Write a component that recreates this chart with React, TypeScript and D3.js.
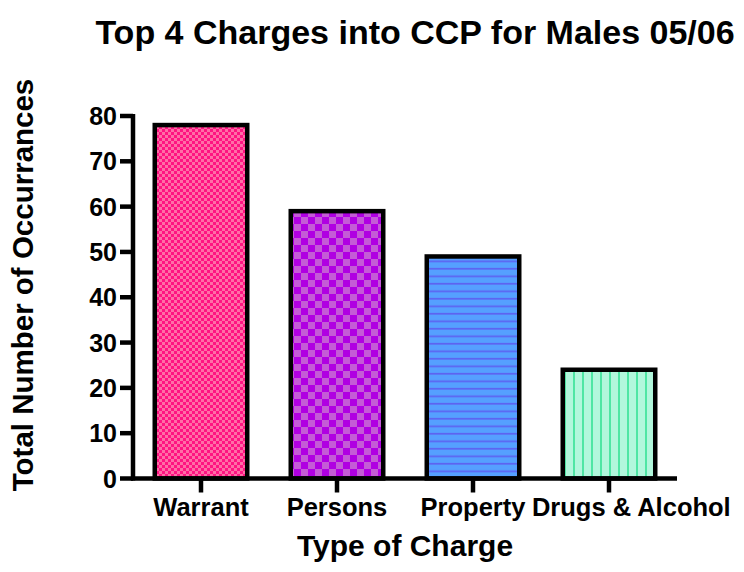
import React from "react";
import * as d3 from "d3";

const categories = ["Warrant", "Persons", "Property", "Drugs & Alcohol"];
const values = [78, 59, 49, 24];
const yTicks = [0, 10, 20, 30, 40, 50, 60, 70, 80];
const patternIds = ["pWarrant", "pPersons", "pProperty", "pDrugs"];

const font = "Liberation Sans, Arial, sans-serif";
const labelSize = 25.5;

function measure(text: string, size: number): number {
  const c = document.createElement("canvas").getContext("2d");
  if (!c) return text.length * size * 0.55;
  c.font = `bold ${size}px Liberation Sans, Arial, sans-serif`;
  return c.measureText(text).width;
}

export default function App() {
  const W = 744, H = 572;
  const x = d3.scaleBand<string>().domain(categories).range([133, 677]).paddingInner(0.32).paddingOuter(0.16);
  const y = d3.scaleLinear().domain([0, 80]).range([478.5, 116]);

  // place category labels centred under ticks, nudged right when they would overlap
  const labelPos: number[] = [];
  let prevEnd = -Infinity;
  categories.forEach((c) => {
    const w = measure(c, labelSize);
    const cx = Math.max(x(c)! + x.bandwidth() / 2, prevEnd + 6 + w / 2);
    labelPos.push(cx);
    prevEnd = cx + w / 2;
  });

  return (
    <svg width={W} height={H} style={{ position: "absolute", left: 0, top: 0 }}>
      <defs>
        <pattern id="pWarrant" width={6} height={6} patternUnits="userSpaceOnUse">
          <rect width={6} height={6} fill="#FF1482" />
          <rect width={3} height={3} fill="#FF6EA6" />
          <rect x={3} y={3} width={3} height={3} fill="#FF6EA6" />
        </pattern>
        <pattern id="pPersons" width={14} height={14} patternUnits="userSpaceOnUse">
          <rect width={14} height={14} fill="#B000E2" />
          <rect width={7} height={7} fill="#C45CD6" />
          <rect x={7} y={7} width={7} height={7} fill="#C45CD6" />
        </pattern>
        <pattern id="pProperty" width={8} height={7.5} patternUnits="userSpaceOnUse">
          <rect width={8} height={7.5} fill="#55A0FF" />
          <rect y={5.5} width={8} height={1.6} fill="#5E5EF0" />
        </pattern>
        <pattern id="pDrugs" width={9} height={8} patternUnits="userSpaceOnUse">
          <rect width={9} height={8} fill="#B2F7DC" />
          <rect x={6} width={2} height={8} fill="#4FE6A4" />
        </pattern>
      </defs>
      <text x={415} y={44} textAnchor="middle" fontFamily={font} fontWeight="bold" fontSize={34}>
        Top 4 Charges into CCP for Males 05/06
      </text>
      {categories.map((c, i) => (
        <rect key={c} x={x(c)!} y={y(values[i])} width={x.bandwidth()} height={y(0) - y(values[i])}
          fill={`url(#${patternIds[i]})`} stroke="#000" strokeWidth={4.5} />
      ))}
      {/* y axis */}
      <line x1={133} x2={133} y1={y(80) - 2} y2={y(0) + 2} stroke="#000" strokeWidth={4.5} />
      {yTicks.map((t) => (
        <g key={t}>
          <line x1={120} x2={133} y1={y(t)} y2={y(t)} stroke="#000" strokeWidth={4.5} />
          <text x={117} y={y(t) + 9} textAnchor="end" fontFamily={font} fontWeight="bold" fontSize={25}>{t}</text>
        </g>
      ))}
      {/* x axis */}
      <line x1={131} x2={677} y1={y(0)} y2={y(0)} stroke="#000" strokeWidth={4.5} />
      {categories.map((c, i) => (
        <g key={c}>
          <line x1={x(c)! + x.bandwidth() / 2} x2={x(c)! + x.bandwidth() / 2} y1={y(0)} y2={y(0) + 14} stroke="#000" strokeWidth={4.5} />
          <text x={labelPos[i]} y={516} textAnchor="middle" fontFamily={font} fontWeight="bold" fontSize={labelSize}>{c}</text>
        </g>
      ))}
      <text x={405} y={556} textAnchor="middle" fontFamily={font} fontWeight="bold" fontSize={30}>Type of Charge</text>
      <text transform={`translate(33,${285}) rotate(-90)`} textAnchor="middle" fontFamily={font} fontWeight="bold" fontSize={29.5}>
        Total Number of Occurrances
      </text>
    </svg>
  );
}
